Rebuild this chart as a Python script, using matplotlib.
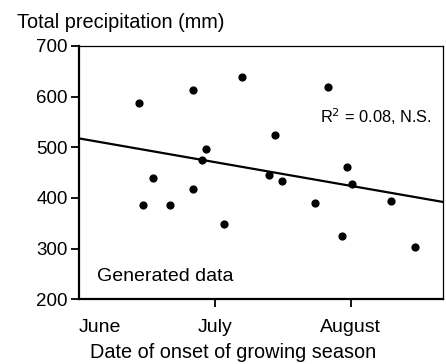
import matplotlib
matplotlib.use('Agg')
import matplotlib.pyplot as plt
import numpy as np

plt.rcParams['font.family'] = ['Liberation Sans', 'DejaVu Sans']

# onset day (days after 1 June) and season total precipitation
onset_day = [13.2, 14.1, 16.3, 20.1, 25.1, 25.1, 27.1, 28.1, 32.1, 36.1,
             42.0, 43.2, 44.9, 52.1, 55.1, 58.2, 59.1, 60.2, 69.0, 74.3]
precip_mm = [588, 386, 440, 386, 613, 417, 475, 497, 349, 638,
             445, 524, 433, 390, 620, 325, 461, 427, 394, 303]

month_ticks = [0, 30, 60]
month_labels = ['June', 'July', 'August']
y_ticks = [200, 300, 400, 500, 600, 700]

x = np.array(onset_day)
y = np.array(precip_mm)
slope, intercept = np.polyfit(x, y, 1)

fig = plt.figure(figsize=(4.46, 3.64), dpi=100)
ax = fig.add_axes([0.1771, 0.1777, 0.8161, 0.696])

xmin, xmax = 0, 80.4
xs = np.array([xmin, xmax])
ax.plot(xs, intercept + slope * xs, color='black', linewidth=1.6)
ax.scatter(x, y, s=24, color='black', zorder=3)

ax.set_xlim(xmin, xmax)
ax.set_ylim(200, 700)
ax.set_yticks(y_ticks)
ax.set_xticks(month_ticks)
ax.set_xticklabels(month_labels)
ax.tick_params(axis='both', labelsize=14, length=6, width=1.3, direction='out')
ax.tick_params(axis='y', labelsize=13.5, pad=2)
ax.tick_params(axis='x', pad=8)

# the June tick sits on the spine; start its label there instead
first = ax.xaxis.get_major_ticks()[0]
first.tick1line.set_visible(False)
first.label1.set_horizontalalignment('left')

for side in ['left', 'bottom']:
    ax.spines[side].set_linewidth(1.6)
for side in ['top', 'right']:
    ax.spines[side].set_linewidth(0.9)

ax.text(4.0, 246, 'Generated data', fontsize=14, va='center')
ax.text(53.2, 561, r'R$^2$ = 0.08, N.S.', fontsize=11.8, va='center')

fig.text(17 / 446, 1 - 22 / 364, 'Total precipitation (mm)', fontsize=14.3,
         ha='left', va='center')
fig.text(233 / 446, 1 - 353 / 364, 'Date of onset of growing season',
         fontsize=14.3, ha='center', va='center')

fig.savefig('out.png', dpi=100)
